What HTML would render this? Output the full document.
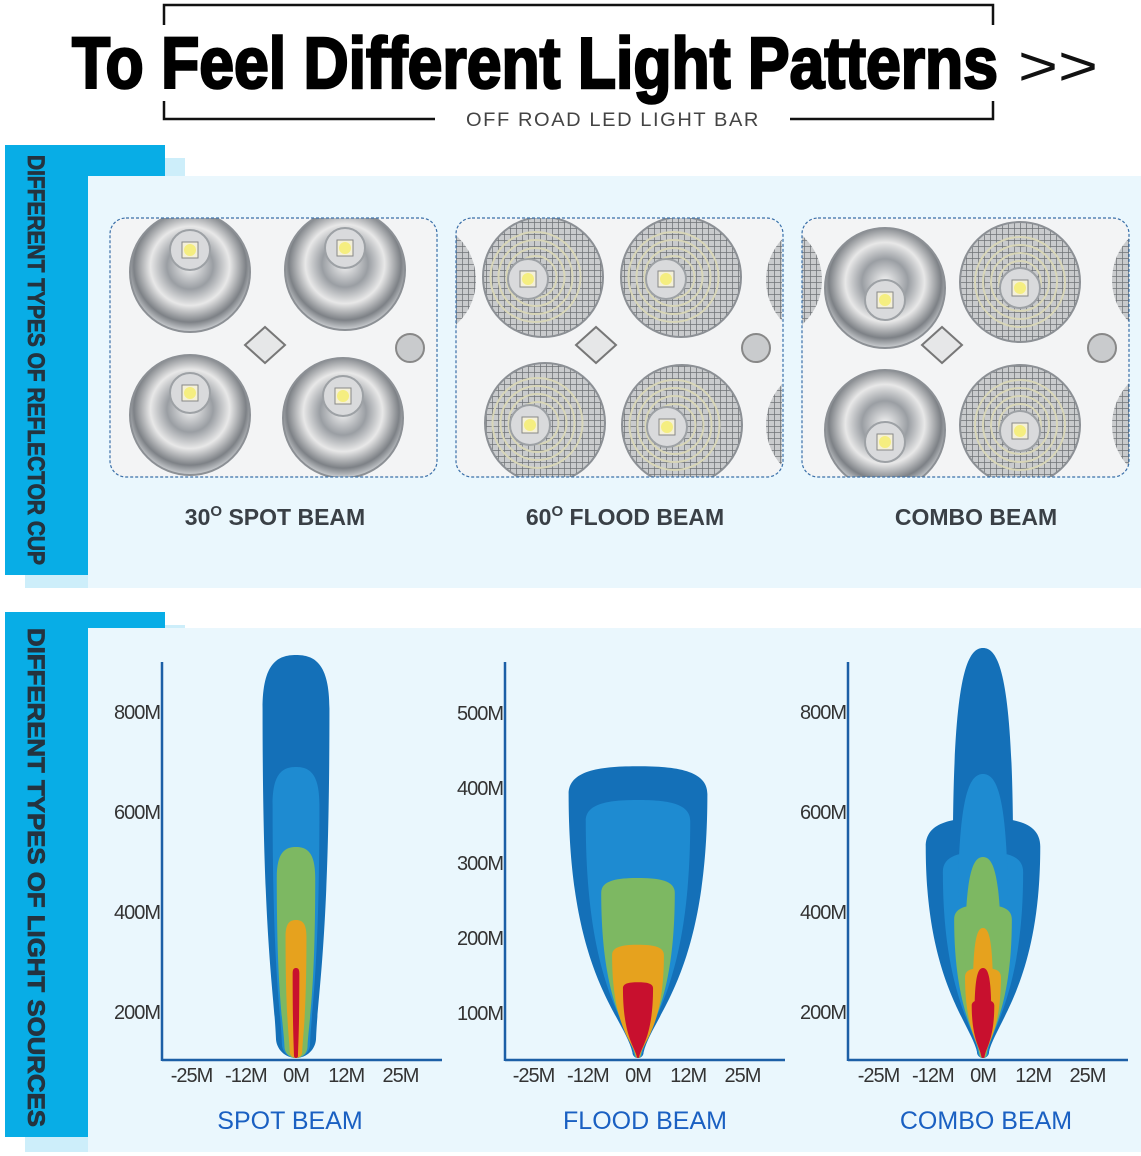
<!DOCTYPE html>
<html><head><meta charset="utf-8"><style>
html,body{margin:0;padding:0;background:#fff;}
svg{display:block;font-family:"Liberation Sans",sans-serif;}
</style></head><body>
<svg id="root" width="1141" height="1156" viewBox="0 0 1141 1156">
<defs>
<radialGradient id="chrome" cx="50%" cy="45%" r="55%">
<stop offset="0" stop-color="#f4f4f4"/><stop offset="0.35" stop-color="#9a9ea3"/><stop offset="0.6" stop-color="#e8e8e8"/><stop offset="0.85" stop-color="#7d8186"/><stop offset="1" stop-color="#cfd2d5"/></radialGradient>
<pattern id="grid" width="6" height="6" patternUnits="userSpaceOnUse"><rect width="6" height="6" fill="#c9cbcd"/><path d="M0 0H6M0 0V6" stroke="#6f7377" stroke-width="1.5"/></pattern>
<clipPath id="c1"><rect x="110" y="218" width="327" height="259" rx="16"/></clipPath>
<clipPath id="c2"><rect x="456" y="218" width="326" height="259" rx="16"/></clipPath>
<clipPath id="c3"><rect x="802" y="218" width="327" height="259" rx="16"/></clipPath>
</defs>

<g>
<path d="M164 25V5H993V25" fill="none" stroke="#111" stroke-width="2.5"/>
<path d="M164 101V119H435M790 119H993V101" fill="none" stroke="#111" stroke-width="2.5"/>
<text x="72" y="88" font-size="72" font-weight="bold" textLength="926" lengthAdjust="spacingAndGlyphs" fill="#000" stroke="#000" stroke-width="2.5" font-family="Liberation Sans Narrow, Liberation Sans, sans-serif">To Feel Different Light Patterns</text>
<text x="1018" y="85" font-size="56" textLength="80" lengthAdjust="spacingAndGlyphs" fill="#111">&gt;&gt;</text>
<text x="466" y="126" font-size="19" letter-spacing="1.5" textLength="294" lengthAdjust="spacingAndGlyphs" fill="#444">OFF ROAD  LED LIGHT BAR</text>
</g>

<g>
<rect x="25" y="158" width="160" height="430" fill="#cdeefa"/>
<rect x="5" y="145" width="160" height="430" fill="#08ade6"/>
<rect x="88" y="176" width="1053" height="412" fill="#eaf7fd"/>
<text transform="translate(28,155) rotate(90)" font-size="24" font-weight="bold" fill="#24333f" stroke="#24333f" stroke-width="0.8" textLength="410" lengthAdjust="spacingAndGlyphs" font-family="Liberation Sans Narrow, Liberation Sans, sans-serif">DIFFERENT TYPES OF REFLECTOR CUP</text>
</g>

<g id="panels"></g>

<text x="275" y="525" text-anchor="middle" font-size="23" font-weight="bold" fill="#3a4046">30<tspan font-size="15" dy="-9">O</tspan><tspan dy="9"> SPOT BEAM</tspan></text>
<text x="625" y="525" text-anchor="middle" font-size="23" font-weight="bold" fill="#3a4046">60<tspan font-size="15" dy="-9">O</tspan><tspan dy="9"> FLOOD BEAM</tspan></text>
<text x="976" y="525" text-anchor="middle" font-size="23" font-weight="bold" fill="#3a4046">COMBO BEAM</text>

<g>
<rect x="25" y="625" width="160" height="527" fill="#cdeefa"/>
<rect x="5" y="612" width="160" height="525" fill="#08ade6"/>
<rect x="88" y="628" width="1053" height="524" fill="#eaf7fd"/>
<text transform="translate(28,628) rotate(90)" font-size="24" font-weight="bold" fill="#24333f" stroke="#24333f" stroke-width="0.8" textLength="499" lengthAdjust="spacingAndGlyphs" font-family="Liberation Sans Narrow, Liberation Sans, sans-serif">DIFFERENT TYPES OF LIGHT SOURCES</text>
</g>
<g id="charts"></g>
</svg>

<script>
// ---------- chart data ----------
const layerNames = ['outer','mid','core','hot','peak'];
const colors = ['#1470b8','#1e8bd1','#7db862','#e6a21e','#c8102e'];
const xTickLabels = ['-25M','-12M','0M','12M','25M'];
const xTickValues = [-25,-12,0,12,25];
const spotYTicks = [200,400,600,800];
const floodYTicks = [100,200,300,400,500];
const comboYTicks = [200,400,600,800];
const spotRange = [914,690,530,384,288];
const spotHalfWidth = [8.0,5.6,4.6,2.5,0.8];
const floodRange = [429,384,280,191,141];
const floodHalfWidth = [16.6,12.5,8.8,6.2,3.6];
const comboSpotRange = [928,676,510,368,288];
const comboSpotHalfWidth = [7.2,6.0,4.3,2.4,2.0];
const comboFloodRange = [588,520,414,288,224];
const comboFloodHalfWidth = [13.7,9.6,6.9,4.3,2.7];

const NS='http://www.w3.org/2000/svg';
function mk(tag,attrs,parent){const e=document.createElementNS(NS,tag);for(const k in attrs)e.setAttribute(k,attrs[k]);parent.appendChild(e);return e;}

// ---------- reflector panels ----------
const panels=document.getElementById('panels');
const panelDefs=[
 {x:110,clip:'c1',type:'spot',cups:[[190,272],[345,270],[190,415],[343,418]],led:[[0,-22],[0,-22],[0,-22],[0,-22]]},
 {x:456,clip:'c2',type:'flood',cups:[[543,277],[681,277],[545,423],[682,425]],led:[[-15,2],[-15,2],[-15,2],[-15,2]]},
 {x:802,clip:'c3',type:'combo',cups:[[885,288],[1020,282],[885,430],[1020,425]],led:[[0,12],[0,6],[0,12],[0,6]]}
];
panelDefs.forEach((p,i)=>{
 const g=mk('g',{'clip-path':'url(#'+p.clip+')'},panels);
 
 
 mk('rect',{x:p.x,y:218,width:327,height:259,fill:'#f3f4f5'},g);
 p.cups.forEach((c,j)=>{
  const isGrid = p.type==='flood' || (p.type==='combo' && j%2===1);
  mk('circle',{cx:c[0],cy:c[1],r:60,fill:isGrid?'url(#grid)':'url(#chrome)',stroke:'#8c9095','stroke-width':2},g);
  if(isGrid){for(let r=45;r>20;r-=8)mk('circle',{cx:c[0]+p.led[j][0]*0.5,cy:c[1],r:r,fill:'none',stroke:'#d8d6b8','stroke-width':2},g);}
  mk('circle',{cx:c[0]+p.led[j][0],cy:c[1]+p.led[j][1],r:20,fill:'#d9dadc',stroke:'#9da1a5','stroke-width':2},g);
  mk('rect',{x:c[0]+p.led[j][0]-8,y:c[1]+p.led[j][1]-8,width:16,height:16,fill:'#f4f0d8',stroke:'#888'},g);
  mk('circle',{cx:c[0]+p.led[j][0],cy:c[1]+p.led[j][1],r:6,fill:'#f5ee80'},g);
 });
 const cx=p.x+(i===0?155:140), cy=345;
 mk('path',{d:`M${cx-20} ${cy}L${cx} ${cy-18}L${cx+20} ${cy}L${cx} ${cy+18}Z`,fill:'#e6e7e8',stroke:'#777','stroke-width':2},g);
 mk('circle',{cx:p.x+300,cy:348,r:14,fill:'#c9cbcd',stroke:'#888','stroke-width':2},g);
 if(i>0){mk('circle',{cx:p.x-40,cy:280,r:60,fill:'url(#grid)'},g);mk('circle',{cx:p.x+370,cy:280,r:60,fill:'url(#grid)'},g);mk('circle',{cx:p.x+370,cy:425,r:60,fill:'url(#grid)'},g);}
 mk('rect',{x:p.x,y:218,width:327,height:259,rx:16,fill:'none',stroke:'#3a6fa8','stroke-width':1.2,'stroke-dasharray':'3 2'},panels);
});

// ---------- beam charts ----------
const charts=document.getElementById('charts');
function beamPath(cx,yb,yt,w,capH,bw,sideK){
 const ys=yt+capH, yr=yb-bw;
 return `M${cx} ${yb}C${cx-bw*0.55} ${yb} ${cx-bw} ${yb-bw*0.45} ${cx-bw} ${yr}`+
  `C${cx-bw-(w-bw)*0.15} ${yr-(yr-ys)*0.15} ${cx-w} ${yr-(yr-ys)*sideK} ${cx-w} ${ys}`+
  `C${cx-w} ${yt+capH*0.15} ${cx-w*0.55} ${yt} ${cx} ${yt}`+
  `C${cx+w*0.55} ${yt} ${cx+w} ${yt+capH*0.15} ${cx+w} ${ys}`+
  `C${cx+w} ${yr-(yr-ys)*sideK} ${cx+bw+(w-bw)*0.15} ${yr-(yr-ys)*0.15} ${cx+bw} ${yr}`+
  `C${cx+bw} ${yb-bw*0.45} ${cx+bw*0.55} ${yb} ${cx} ${yb}Z`;
}
function makeChart(cfg){
 const g=mk('g',{},charts);
 
 
 const ax=cfg.axisX, ay=1060, x0=cfg.x0, pxM=4.18;
 const X=v=>x0+v*pxM;
 const Y=v=>cfg.refY-(v-cfg.refV)*cfg.pxPerM;
 cfg.layers.forEach((L,i)=>{
  L.parts.forEach(pt=>{
   const yt=Y(pt.range[i]), w=pt.hw[i]*pxM;
   const p=mk('path',{d:beamPath(x0,ay-2,yt,w,pt.cap(w,ay-2-yt),pt.bw*w,pt.sideK),fill:colors[i]},g);
   
   
  });
 });
 const yl=mk('line',{x1:ax,y1:662,x2:ax,y2:ay+1,stroke:'#1c5fa6','stroke-width':2.5},g);
 
 
 const xl=mk('line',{x1:ax,y1:ay,x2:ax+280,y2:ay,stroke:'#1c5fa6','stroke-width':2.5},g);
 
 
 cfg.yTicks.forEach(v=>{
  const t=mk('text',{x:ax-2,y:Y(v)+7,'text-anchor':'end','font-size':20,'letter-spacing':'-1',fill:'#333'},g);
  t.textContent=v+'M';
  
  
 });
 xTickValues.forEach((v,k)=>{
  const t=mk('text',{x:X(v),y:ay+22,'text-anchor':'middle','font-size':20,'letter-spacing':'-1',fill:'#333'},g);
  t.textContent=xTickLabels[k];
  
  
 });
 const tt=mk('text',{x:cfg.titleX,y:1129,'text-anchor':'middle','font-size':25,fill:'#1a60c2'},g);
 tt.textContent=cfg.title;
 
 
}
const spotPart={range:spotRange,hw:spotHalfWidth,cap:(w,h)=>w*1.6,bw:0.6,sideK:0.3};
makeChart({name:'spot-beam-chart',key:'spot',axisX:162,x0:296,refY:1012,refV:200,pxPerM:0.5,yTicks:spotYTicks,title:'SPOT BEAM',titleX:290,
 layers:colors.map(()=>({parts:[spotPart]}))});
const floodPart={range:floodRange,hw:floodHalfWidth,cap:(w,h)=>w*0.4,bw:0.08,sideK:0.3};
makeChart({name:'flood-beam-chart',key:'flood',axisX:505,x0:638,refY:1013,refV:100,pxPerM:0.75,yTicks:floodYTicks,title:'FLOOD BEAM',titleX:645,
 layers:colors.map(()=>({parts:[floodPart]}))});
const comboSpot={range:comboSpotRange,hw:comboSpotHalfWidth,cap:(w,h)=>h*0.5,bw:0.2,sideK:0.4};
const comboFlood={range:comboFloodRange,hw:comboFloodHalfWidth,cap:(w,h)=>w*0.5,bw:0.1,sideK:0.35};
makeChart({name:'combo-beam-chart',key:'combo',axisX:848,x0:983,refY:1012,refV:200,pxPerM:0.5,yTicks:comboYTicks,title:'COMBO BEAM',titleX:986,
 layers:colors.map(()=>({parts:[comboFlood,comboSpot]}))});
</script>
</body></html>
